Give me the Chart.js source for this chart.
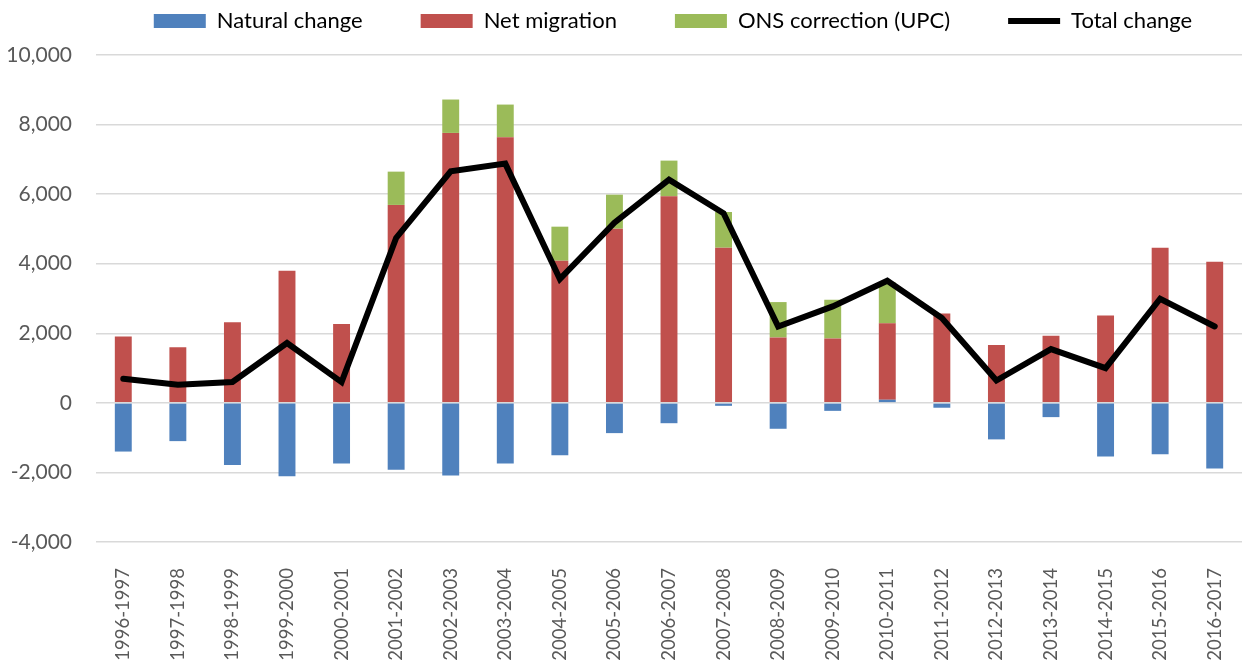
<!DOCTYPE html>
<html lang="en">
<head>
    <meta charset="UTF-8">
    <title>Population change</title>
    <script src="https://cdn.jsdelivr.net/npm/chart.js"></script>
    <style>
        body { margin: 0; background: #fff; }
        #wrap { width: 1242px; height: 666px; }
    </style>
</head>
<body>
    <div id="wrap"><canvas id="chart"></canvas></div>

    <script>
        const years = ['1996-1997', '1997-1998', '1998-1999', '1999-2000', '2000-2001', '2001-2002', '2002-2003',
            '2003-2004', '2004-2005', '2005-2006', '2006-2007', '2007-2008', '2008-2009', '2009-2010',
            '2010-2011', '2011-2012', '2012-2013', '2013-2014', '2014-2015', '2015-2016', '2016-2017'];

        const naturalChange = [-1400, -1100, -1785, -2110, -1745, -1920, -2090, -1745, -1505, -870,
            -585, -85, -745, -230, 90, -140, -1050, -410, -1540, -1475, -1890];

        const netMigration = [1910, 1600, 2320, 3800, 2265, 5690, 7760, 7635, 4086, 5007,
            5937, 4460, 1880, 1851, 2195, 2570, 1660, 1928, 2512, 4460, 4058];

        const onsCorrection = [0, 0, 0, 0, 0, 957, 960, 940, 979, 978,
            1027, 1027, 1017, 1113, 1180, 0, 0, 0, 0, 0, 0];

        const totalChange = [690, 520, 600, 1720, 595, 4740, 6656, 6877, 3560, 5180,
            6417, 5450, 2196, 2772, 3510, 2437, 642, 1545, 998, 2993, 2196];

        const yTicks = { min: -4000, max: 10000, step: 2000 };

        const LEGEND_PAD = 58;

        // centre the legend over the plot area and lift it to the top edge
        const legendOverPlot = {
            id: 'legendOverPlot',
            afterLayout(chart) {
                const lg = chart.legend;
                const shift = (chart.chartArea.left + chart.chartArea.right) / 2 - (lg.left + lg.right) / 2;
                lg.left += shift + 4;
                lg.right += shift + 4;
                lg.top = 10 - LEGEND_PAD;
            }
        };

        new Chart(document.getElementById('chart'), {
            type: 'bar',
            data: {
                labels: years,
                datasets: [
                    { label: 'Natural change', data: naturalChange, backgroundColor: '#4F81BD', stack: 'bars' },
                    { label: 'Net migration', data: netMigration, backgroundColor: '#C0504D', stack: 'bars' },
                    { label: 'ONS correction (UPC)', data: onsCorrection, backgroundColor: '#9BBB59', stack: 'bars' },
                    {
                        type: 'line', label: 'Total change', data: totalChange, stack: 'line', order: -1,
                        borderColor: '#000', backgroundColor: '#000', borderWidth: 6,
                        borderCapStyle: 'round', borderJoinStyle: 'miter', pointRadius: 0, tension: 0
                    }
                ]
            },
            options: {
                responsive: true,
                maintainAspectRatio: false,
                animation: false,
                layout: { padding: { left: 6, right: 0, top: 55 - (LEGEND_PAD + 32), bottom: 0 } },
                datasets: { bar: { categoryPercentage: 1, barPercentage: 0.31 } },
                plugins: {
                    tooltip: { enabled: false },
                    legend: {
                        position: 'top',
                        labels: {
                            usePointStyle: true,
                            pointStyleWidth: 52,
                            boxHeight: 14,
                            padding: LEGEND_PAD,
                            color: '#000',
                            font: { family: 'Lato', size: 22 },
                            sort: (a, b) => a.datasetIndex - b.datasetIndex,
                            generateLabels(chart) {
                                const items = Chart.defaults.plugins.legend.labels.generateLabels(chart);
                                items.forEach(it => {
                                    it.pointStyle = it.datasetIndex === 3 ? 'line' : 'rect';
                                    if (it.datasetIndex !== 3) it.lineWidth = 0;
                                });
                                return items;
                            }
                        }
                    }
                },
                scales: {
                    x: {
                        stacked: true,
                        grid: { display: false },
                        border: { display: false },
                        afterFit(scale) {
                            scale.paddingLeft = 0;
                            scale.paddingRight = 0;
                            scale.height = 124;
                        },
                        ticks: {
                            color: '#595959', minRotation: 90, maxRotation: 90, padding: 18,
                            font: { family: 'Lato', size: 18.5 }
                        }
                    },
                    y: {
                        stacked: true,
                        min: yTicks.min, max: yTicks.max,
                        border: { display: false },
                        grid: { color: '#D9D9D9', lineWidth: 1.5, drawTicks: false },
                        afterFit(scale) {
                            scale.width = 90;
                        },
                        ticks: {
                            stepSize: yTicks.step, padding: 24, color: '#595959',
                            font: { family: 'Lato', size: 21 },
                            callback: v => v.toLocaleString('en-US')
                        }
                    }
                }
            },
            plugins: [legendOverPlot]
        });
    </script>
</body>
</html>
